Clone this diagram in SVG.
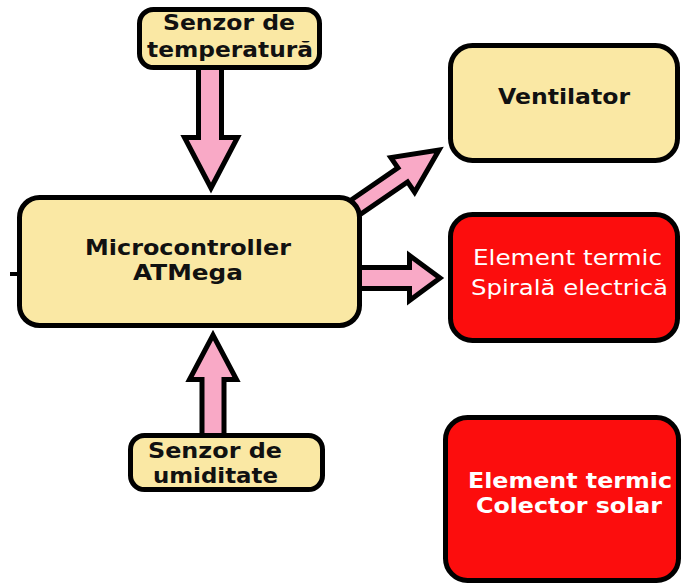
<svg xmlns="http://www.w3.org/2000/svg" width="681" height="586" viewBox="0 0 681 586">
<style>
.arrow{fill:#f9a9c6;stroke:#000;stroke-width:5;stroke-linejoin:miter;stroke-miterlimit:10}
.box{stroke:#000;stroke-width:5}
.yel{fill:#fae8a4}
.red{fill:#fc0d0d}
.tb{font-family:"DejaVu Sans",Verdana,sans-serif;font-weight:bold;fill:#111}
.tw{font-family:"DejaVu Sans",Verdana,sans-serif;fill:#fff}
</style>
<rect width="681" height="586" fill="#fff"/>
<g id="connectors">
<line x1="10" y1="274" x2="20" y2="274" stroke="#000" stroke-width="4"/>
<polygon class="arrow" points="198.5,66 221.5,66 221.5,137.5 237.5,137.5 211,188 184.5,137.5 198.5,137.5"/>
<polygon class="arrow" points="202,438 224,438 224,379.5 236.5,379.5 213,335 189.5,379.5 202,379.5"/>
<polygon class="arrow" points="355,267.5 409.5,267.5 409.5,255.5 440,278 409.5,300.5 409.5,288.5 355,288.5"/>
<polygon class="arrow" transform="translate(439,150) rotate(-34.5)" points="-110,-8.5 -44,-8.5 -44,-21 0,0 -44,21 -44,8.5 -110,8.5"/>
</g>
<g id="senzor-temperatura">
<rect class="box yel" x="139.5" y="9.5" width="180" height="58" rx="14"/>
<text class="tb" x="163" y="30" font-size="22" textLength="132" lengthAdjust="spacingAndGlyphs">Senzor de</text>
<text class="tb" x="147" y="57" font-size="22" textLength="166" lengthAdjust="spacingAndGlyphs">temperatură</text>
</g>
<g id="microcontroller">
<rect class="box yel" x="19.5" y="197.5" width="340" height="128" rx="20"/>
<text class="tb" x="85" y="255" font-size="21" textLength="206" lengthAdjust="spacingAndGlyphs">Microcontroller</text>
<text class="tb" x="133" y="280" font-size="21" textLength="110" lengthAdjust="spacingAndGlyphs">ATMega</text>
</g>
<g id="senzor-umiditate">
<rect class="box yel" x="130.5" y="435.5" width="192" height="54" rx="14"/>
<text class="tb" x="148" y="458" font-size="22" textLength="134" lengthAdjust="spacingAndGlyphs">Senzor de</text>
<text class="tb" x="153" y="483" font-size="22" textLength="125" lengthAdjust="spacingAndGlyphs">umiditate</text>
</g>
<g id="ventilator">
<rect class="box yel" x="450.5" y="45.5" width="227" height="115" rx="22"/>
<text class="tb" x="498" y="104" font-size="21" textLength="132" lengthAdjust="spacingAndGlyphs">Ventilator</text>
</g>
<g id="spirala">
<rect class="box red" x="450.5" y="214.5" width="227" height="126" rx="22"/>
<text class="tw" x="473" y="265" font-size="22" textLength="189" lengthAdjust="spacingAndGlyphs">Element termic</text>
<text class="tw" x="471" y="295" font-size="22" textLength="197" lengthAdjust="spacingAndGlyphs">Spirală electrică</text>
</g>
<g id="colector">
<rect class="box red" x="445.5" y="417.5" width="233" height="163" rx="22"/>
<text class="tw" x="468" y="488" font-size="21" font-weight="bold" textLength="204" lengthAdjust="spacingAndGlyphs">Element termic</text>
<text class="tw" x="476" y="513" font-size="21" font-weight="bold" textLength="186" lengthAdjust="spacingAndGlyphs">Colector solar</text>
</g>
</svg>
